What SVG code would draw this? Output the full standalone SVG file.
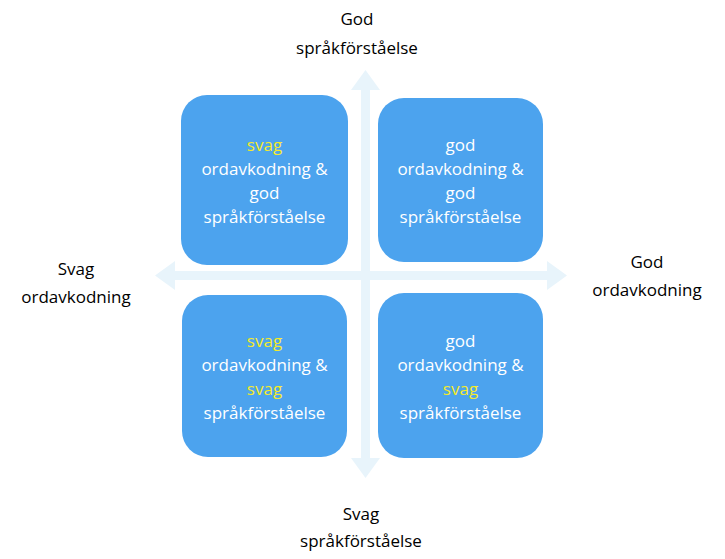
<svg xmlns="http://www.w3.org/2000/svg" width="725" height="559" viewBox="0 0 725 559">
<style>
.b{fill:#4ca3ee}
.t{font-family:"Open Sans","Liberation Sans",sans-serif;font-size:17px;fill:#fff;text-anchor:middle}
.y{fill:#f5ea2a}
.l{font-family:"Open Sans","Liberation Sans",sans-serif;font-size:17px;fill:#000;text-anchor:middle}
</style>
<rect width="725" height="559" fill="#fff"/>
<g id="axes" fill="#e8f4fb">
<rect x="361" y="88" width="9" height="372"/>
<polygon points="365.5,70 380,90 351,90"/>
<polygon points="365.5,478 380,458 351,458"/>
<rect x="172" y="271" width="378" height="9"/>
<polygon points="155,275.5 175,261 175,290"/>
<polygon points="567,275.5 547,261 547,290"/>
</g>
<g id="tl"><rect class="b" x="181" y="95" width="167" height="170" rx="26"/>
<text class="t" x="264.5"><tspan class="y" x="264.5" y="151">svag</tspan><tspan x="264.5" y="175">ordavkodning &amp;</tspan><tspan x="264.5" y="199">god</tspan><tspan x="264.5" y="223">språkförståelse</tspan></text></g>
<g id="tr"><rect class="b" x="378" y="98" width="165" height="164" rx="26"/>
<text class="t" x="460.5"><tspan x="460.5" y="151">god</tspan><tspan x="460.5" y="175">ordavkodning &amp;</tspan><tspan x="460.5" y="199">god</tspan><tspan x="460.5" y="223">språkförståelse</tspan></text></g>
<g id="bl"><rect class="b" x="182" y="295" width="165" height="162" rx="26"/>
<text class="t" x="264.5"><tspan class="y" x="264.5" y="347">svag</tspan><tspan x="264.5" y="371">ordavkodning &amp;</tspan><tspan class="y" x="264.5" y="395">svag</tspan><tspan x="264.5" y="419">språkförståelse</tspan></text></g>
<g id="br"><rect class="b" x="378" y="293" width="165" height="165" rx="26"/>
<text class="t" x="460.5"><tspan x="460.5" y="347">god</tspan><tspan x="460.5" y="371">ordavkodning &amp;</tspan><tspan class="y" x="460.5" y="395">svag</tspan><tspan x="460.5" y="419">språkförståelse</tspan></text></g>
<g id="labels">
<text class="l"><tspan x="357" y="25">God</tspan><tspan x="357" y="54">språkförståelse</tspan></text>
<text class="l"><tspan x="361" y="520">Svag</tspan><tspan x="361" y="547">språkförståelse</tspan></text>
<text class="l"><tspan x="76" y="275">Svag</tspan><tspan x="76" y="303">ordavkodning</tspan></text>
<text class="l"><tspan x="647" y="268">God</tspan><tspan x="647" y="296">ordavkodning</tspan></text>
</g>
</svg>
